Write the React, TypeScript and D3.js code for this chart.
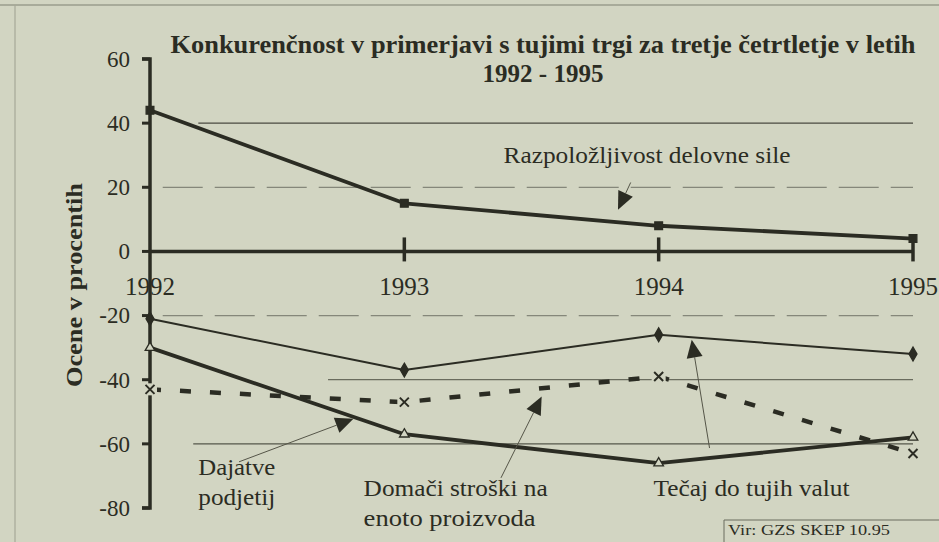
import React from 'react';
import * as d3 from 'd3';

const years = [1992, 1993, 1994, 1995];
const yTicks = [60, 40, 20, 0, -20, -40, -60, -80];

// values (percent)
const razpolozljivost = [44, 15, 8, 4];
const tecaj = [-21, -37, -26, -32];
const domaciStroski = [-43, -47, -39, -63];
const dajatve = [-30, -57, -66, -58];

const titleLines = [
  'Konkurenčnost v primerjavi s tujimi trgi za tretje četrtletje v letih',
  '1992 - 1995',
];
const yLabel = 'Ocene v procentih';
const source = 'Vir: GZS SKEP 10.95';

// annotation labels, anchored in data units (year, value)
const labels = [
  { lines: ['Razpoložljivost delovne sile'], x: 1993.39, y: 27.5, tail: [1993.89, 21.5], tip: [1993.84, 13] },
  { lines: ['Dajatve', 'podjetij'], x: 1992.19, y: -69.8, tail: [1992.35, -65.6], tip: [1992.8, -52.2] },
  { lines: ['Domači stroški na', 'enoto proizvoda'], x: 1992.84, y: -76.2, tail: [1993.38, -70.6], tip: [1993.54, -45.2] },
  { lines: ['Tečaj do tujih valut'], x: 1993.98, y: -76.2, tail: [1994.2, -61.3], tip: [1994.13, -27.5] },
];

const W = 939, H = 542;
const BG = '#d2d5c2';
const INK = '#2b2c23';
const FONT = 'Liberation Serif';

// measured widths of the scanned label lines
const lineWidths = {
  'Razpoložljivost delovne sile': 287,
  'Dajatve': 77,
  'podjetij': 77,
  'Domači stroški na': 184,
  'enoto proizvoda': 172,
  'Tečaj do tujih valut': 196,
};

const x = d3.scaleLinear().domain([1992, 1995]).range([150, 913]);
const y = d3.scaleLinear().domain([-80, 60]).range([508, 59]);
const line = d3.line<number>().x((d, i) => x(years[i])).y(d => y(d));

const grids = [
  { v: 40, dash: undefined, color: '#4a4a40', from: 1992.19 },
  { v: 20, dash: '40 12', color: '#85877a', from: 1992.05 },
  { v: -20, dash: '40 12', color: '#85877a', from: 1992.05 },
  { v: -40, dash: undefined, color: '#6a6c5e', from: 1992.7 },
  { v: -60, dash: undefined, color: '#55574a', from: 1992.17 },
];

const series = [
  { key: 'r', values: razpolozljivost, w: 3.8, dash: undefined, sym: d3.symbolSquare, size: 60, fill: INK },
  { key: 't', values: tecaj, w: 2, dash: undefined, sym: d3.symbolDiamond, size: 55, fill: INK },
  { key: 'd', values: domaciStroski, w: 4.5, dash: '11 19', sym: null, size: 0, fill: INK },
  { key: 'j', values: dajatve, w: 3.8, dash: undefined, sym: d3.symbolTriangle, size: 40, fill: BG },
];

const Arrow = ({ tail, tip }) => {
  const x0 = x(tail[0]), y0 = y(tail[1]), x1 = x(tip[0]), y1 = y(tip[1]);
  const ang = Math.atan2(y1 - y0, x1 - x0);
  const len = 18, half = 8;
  const bx = x1 - len * Math.cos(ang), by = y1 - len * Math.sin(ang);
  const px = -Math.sin(ang) * half, py = Math.cos(ang) * half;
  return (
    <g>
      <line x1={x0} y1={y0} x2={bx} y2={by} stroke="#555548" strokeWidth={1} />
      <path d={`M${x1},${y1}L${bx + px},${by + py}L${bx - px},${by - py}Z`} fill={INK} />
    </g>
  );
};

const App = () => {
  document.body.style.margin = '0';
  const x0 = x(1992);
  return (
    <svg width={W} height={H} style={{ display: 'block', fontFamily: FONT }}>
      <rect width={W} height={H} fill={BG} />
      {/* scan frame remnants */}
      <line x1={0} x2={W} y1={5} y2={5} stroke="#9a9c8c" strokeWidth={1.5} />
      <line x1={15} x2={15} y1={5} y2={H} stroke="#a6a898" strokeWidth={1.2} />

      {grids.map(g => (
        <line key={g.v} x1={x(g.from)} x2={x(1995)} y1={y(g.v)} y2={y(g.v)}
          stroke={g.color} strokeWidth={1.2} strokeDasharray={g.dash} />
      ))}

      {/* y axis */}
      <path d={`M${x0 - 8},${y(60)}H${x0}V${y(-80)}H${x0 - 8}`} fill="none" stroke={INK} strokeWidth={3.5} />
      {yTicks.map(t => (
        <g key={t}>
          <line x1={x0 - 8} x2={x0} y1={y(t)} y2={y(t)} stroke={INK} strokeWidth={3} />
          <text x={x0 - 20} y={y(t)} dy="0.34em" textAnchor="end" fontSize={23} fill={INK}>{String(t)}</text>
        </g>
      ))}

      {/* zero line with year ticks */}
      <line x1={x0} x2={x(1995)} y1={y(0)} y2={y(0)} stroke={INK} strokeWidth={3.5} />
      {years.map((yr, i) => (
        <g key={yr}>
          {i > 0 && <line x1={x(yr)} x2={x(yr)} y1={y(0) - 14} y2={y(0) + 10} stroke={INK} strokeWidth={3.5} />}
          <text x={x(yr)} y={y(0) + 44} textAnchor="middle" fontSize={25} fill={INK}>{yr}</text>
        </g>
      ))}

      {series.map(s => (
        <g key={s.key}>
          <path d={line(s.values) || ''} fill="none" stroke={INK} strokeWidth={s.w}
            strokeDasharray={s.dash} strokeLinejoin="round" />
          {s.values.map((v, i) => {
            const cx = x(years[i]), cy = y(v);
            if (s.sym) {
              return <path key={i} transform={`translate(${cx},${cy})`}
                d={d3.symbol().type(s.sym).size(s.size)() || ''}
                fill={s.fill} stroke={INK} strokeWidth={1.3} />;
            }
            const r = 4.5;
            return (
              <g key={i}>
                <rect x={cx - 7} y={cy - 6} width={14} height={12} fill={BG} />
                <path d={`M${cx - r},${cy - r}L${cx + r},${cy + r}M${cx - r},${cy + r}L${cx + r},${cy - r}`}
                  stroke={INK} strokeWidth={2} fill="none" />
              </g>
            );
          })}
        </g>
      ))}

      {/* title */}
      <text x={543} y={53} textAnchor="middle" fontWeight="bold" fontSize={25} fill={INK}
        textLength={745} lengthAdjust="spacingAndGlyphs">{titleLines[0]}</text>
      <text x={543} y={82} textAnchor="middle" fontWeight="bold" fontSize={25} fill={INK}>{titleLines[1]}</text>

      {/* y label */}
      <text transform="translate(82,285) rotate(-90)" textAnchor="middle" fontWeight="bold" fontSize={23} fill={INK}
        textLength={204} lengthAdjust="spacingAndGlyphs">{yLabel}</text>

      {/* annotations */}
      {labels.map(l => (
        <g key={l.lines[0]}>
          {l.lines.map((ln, i) => (
            <text key={ln} x={x(l.x)} y={y(l.y) + i * 30} fontSize={23} fill={INK}
              textLength={lineWidths[ln]} lengthAdjust="spacingAndGlyphs">{ln}</text>
          ))}
          <Arrow tail={l.tail} tip={l.tip} />
        </g>
      ))}

      {/* source box */}
      <path d={`M724,${H}V520H${W}`} fill="none" stroke="#6a6c5e" strokeWidth={1} />
      <text x={728} y={535} fontSize={15} fill={INK} textLength={162} lengthAdjust="spacingAndGlyphs">{source}</text>
    </svg>
  );
};

export default App;
